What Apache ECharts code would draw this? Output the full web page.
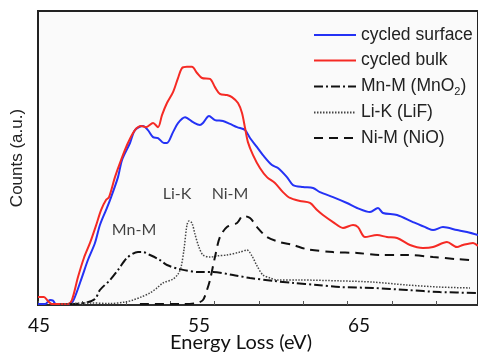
<!DOCTYPE html>
<html>
<head>
<meta charset="utf-8">
<script src="https://cdn.jsdelivr.net/npm/echarts@6/dist/echarts.min.js"></script>
<style>
  html, body { margin: 0; padding: 0; background: #fff; }
  #chart { width: 478px; height: 354px; }
</style>
</head>
<body>
<div id="chart"></div>
<script>
// energy loss (eV) / counts (a.u.)
const surfaceX = [44.94, 45.38, 45.69, 45.88, 46.06, 46.94, 47.19, 47.69, 48.06, 48.5, 48.81, 49.19, 49.44, 49.94, 50.19, 50.69, 51.0, 51.5, 51.81, 52.13, 52.44, 52.81, 53.0, 53.38, 53.69, 54.13, 54.63, 55.06, 55.25, 55.63, 56.0, 56.5, 56.94, 57.38, 57.88, 58.19, 58.63, 59.0, 59.56, 59.94, 60.5, 60.88, 61.5, 62.13, 62.56, 63.38, 64.25, 64.88, 65.69, 66.19, 66.5, 67.38, 68.38, 69.25, 69.63, 70.25, 71.13, 71.75, 72.44];
const surfaceY = [0.3, 0.3, 1.7, 1.5, 0.3, 0.3, 2.0, 9.5, 15.3, 21.1, 27.2, 32.3, 35.7, 43.5, 49.3, 55.1, 59.5, 60.9, 59.5, 57.1, 56.8, 55.1, 55.1, 58.8, 61.9, 63.9, 62.2, 61.2, 61.9, 64.3, 62.9, 62.6, 61.6, 60.5, 59.5, 56.8, 53.7, 51.0, 47.6, 46.6, 43.5, 40.8, 40.1, 39.8, 38.4, 36.7, 34.7, 33.0, 31.6, 33.0, 31.3, 30.6, 28.2, 26.2, 25.5, 26.5, 25.5, 24.8, 23.8];

const bulkX = [44.94, 45.31, 45.56, 45.81, 46.81, 47.06, 47.44, 47.81, 48.19, 48.56, 48.88, 49.19, 49.38, 49.75, 50.13, 50.56, 51.0, 51.38, 51.69, 52.13, 52.44, 52.69, 53.0, 53.38, 53.69, 53.94, 54.25, 54.56, 54.88, 55.19, 55.69, 56.0, 56.31, 56.75, 57.06, 57.44, 57.69, 57.88, 58.06, 58.38, 58.81, 59.25, 59.75, 60.25, 60.69, 61.31, 61.94, 62.38, 62.75, 63.38, 64.0, 64.63, 64.94, 65.38, 66.13, 66.75, 67.38, 68.19, 69.0, 69.63, 70.5, 71.13, 71.5, 72.13, 72.44];
const bulkY = [2.7, 2.7, 1.4, 0.3, 0.3, 1.7, 9.5, 16.0, 21.1, 26.9, 32.3, 35.7, 36.7, 43.5, 49.3, 55.1, 59.5, 60.9, 60.5, 61.9, 60.5, 64.6, 68.7, 72.4, 77.2, 80.6, 81.0, 81.0, 78.9, 77.2, 76.9, 74.1, 71.8, 71.4, 70.7, 68.7, 65.3, 60.2, 55.4, 51.0, 46.6, 43.5, 41.5, 38.4, 36.4, 35.4, 34.7, 32.3, 30.6, 28.2, 26.2, 27.2, 26.5, 23.1, 23.8, 23.1, 22.8, 20.4, 19.4, 19.7, 21.4, 19.7, 20.4, 21.1, 20.1];

const mnX = [46.94, 47.88, 48.5, 48.81, 49.44, 49.94, 50.5, 51.19, 51.5, 51.94, 52.56, 53.0, 53.81, 55.06, 55.88, 57.13, 58.19, 59.63, 60.88, 62.38, 63.81, 65.88, 68.0, 70.06, 72.44];
const mnY = [0.3, 0.7, 2.0, 5.1, 8.5, 11.9, 16.0, 18.0, 18.0, 17.0, 15.3, 13.6, 12.2, 11.2, 11.2, 10.2, 9.2, 8.2, 7.5, 6.8, 6.1, 5.8, 5.1, 4.4, 4.1];

const liX = [46.31, 48.19, 49.44, 50.38, 50.88, 51.38, 51.94, 52.38, 52.75, 53.38, 53.69, 53.88, 54.06, 54.25, 54.38, 54.56, 54.75, 55.0, 55.25, 55.69, 56.13, 56.75, 57.56, 58.0, 58.31, 58.63, 59.0, 59.44, 59.88, 61.31, 63.81, 65.88, 68.0, 70.06, 71.94];
const liY = [0.3, 0.7, 0.5, 1.0, 1.7, 2.7, 4.1, 5.8, 7.5, 8.8, 10.5, 12.9, 18.7, 27.2, 28.6, 27.9, 24.1, 19.7, 17.0, 16.3, 16.7, 17.0, 18.0, 18.7, 16.7, 13.3, 10.2, 9.2, 8.5, 8.5, 8.2, 7.8, 6.8, 6.1, 5.8];

const niX = [51.31, 53.81, 54.88, 55.25, 55.5, 55.69, 56.0, 56.31, 56.75, 57.38, 57.75, 58.19, 58.63, 59.25, 60.06, 60.88, 61.75, 63.38, 64.88, 66.31, 68.0, 69.63, 71.13, 71.94];
const niY = [0.3, 0.3, 0.7, 1.7, 5.1, 8.5, 16.3, 23.1, 26.5, 27.9, 30.3, 29.6, 26.5, 23.1, 21.4, 20.4, 19.0, 18.0, 17.7, 17.0, 17.0, 16.3, 15.6, 15.3];

const xLabels = [45, 55, 65];
const xTicks = [44.94, 47.69, 50.44, 53.19, 55.94, 58.75, 61.5, 64.25, 67.06, 69.81];

const notes = ['Mn-M', 'Li-K', 'Ni-M'];
const notesX = [50.94, 53.63, 56.94];
const notesY = [25.5, 37.8, 37.8];

const zip = (xs, ys) => xs.map((x, i) => [x, ys[i]]);

const chart = echarts.init(document.getElementById('chart'));

const lineSeries = (name, xs, ys, color, width, type) => ({
  name: name,
  type: 'line',
  data: zip(xs, ys),
  showSymbol: false,
  symbol: 'none',
  smooth: 0.3,
  lineStyle: { color: color, width: width, type: type },
  itemStyle: { color: color },
  emphasis: { disabled: true },
});

const option = {
  backgroundColor: '#fff',
  animation: false,
  grid: {
    left: 38, top: 11, right: -2, bottom: 49,
    show: true, backgroundColor: '#fafafa', borderColor: '#222', borderWidth: 2,
  },
  legend: {
    data: ['cycled surface', 'cycled bulk', 'Mn-M (MnO2)', 'Li-K (LiF)', 'Ni-M (NiO)'],
    orient: 'vertical',
    left: 313,
    top: 25,
    padding: 0,
    itemWidth: 42,
    itemHeight: 14,
    itemGap: 5.5,
    itemStyle: { opacity: 0 },
    textStyle: {
      fontFamily: 'Liberation Sans',
      fontSize: 17.5,
      color: '#222',
      lineHeight: 20,
      rich: {
        a: { fontFamily: 'Liberation Sans', fontSize: 17.5, color: '#222', lineHeight: 20 },
        s: { fontFamily: 'Liberation Sans', fontSize: 11, color: '#222', lineHeight: 20, padding: [10, 0, 0, 0] },
      },
    },
    formatter: (name) => {
      if (name === 'Mn-M (MnO2)') return '{a|Mn-M (MnO}{s|2}{a|)}';
      return '{a|' + name + '}';
    },
  },
  xAxis: {
    type: 'value',
    min: 44.94,
    max: 72.44,
    splitLine: { show: false },
    axisLine: { lineStyle: { color: '#333', width: 1.5 } },
    axisTick: { inside: true, length: 4, customValues: xTicks, lineStyle: { color: '#555' } },
    axisLabel: {
      customValues: xLabels,
      margin: 11,
      fontFamily: 'Lato',
      fontSize: 19,
      color: '#111',
    },
  },
  yAxis: {
    type: 'value',
    min: 0,
    max: 100,
    name: 'Counts (a.u.)',
    nameLocation: 'middle',
    nameRotate: 90,
    nameGap: 12,
    nameTextStyle: { fontFamily: 'Liberation Sans', fontSize: 17, color: '#222' },
    splitLine: { show: false },
    axisLine: { show: false },
    axisTick: { show: false },
    axisLabel: { show: false },
  },
  graphic: [{
    type: 'text',
    x: 241,
    y: 343,
    style: {
      text: 'Energy Loss (eV)',
      fontFamily: 'Lato',
      fontSize: 20,
      fill: '#111',
      align: 'center',
      verticalAlign: 'middle',
    },
  }],
  series: [
    lineSeries('cycled surface', surfaceX, surfaceY, '#2432f5', 2, 'solid'),
    lineSeries('cycled bulk', bulkX, bulkY, '#f52a24', 2, 'solid'),
    lineSeries('Mn-M (MnO2)', mnX, mnY, '#111', 2, [9, 3, 2, 3]),
    lineSeries('Li-K (LiF)', liX, liY, '#444', 1.5, [1.5, 1.5]),
    lineSeries('Ni-M (NiO)', niX, niY, '#111', 2, [9, 6]),
    {
      name: 'notes',
      type: 'scatter',
      symbolSize: 0,
      data: notes.map((n, i) => ({ name: n, value: [notesX[i], notesY[i]] })),
      label: {
        show: true,
        position: 'inside',
        formatter: (p) => p.name,
        fontFamily: 'Lato',
        fontSize: 16,
        color: '#111',
      },
      emphasis: { disabled: true },
      silent: true,
    },
  ],
};

chart.setOption(option);
</script>
</body>
</html>
